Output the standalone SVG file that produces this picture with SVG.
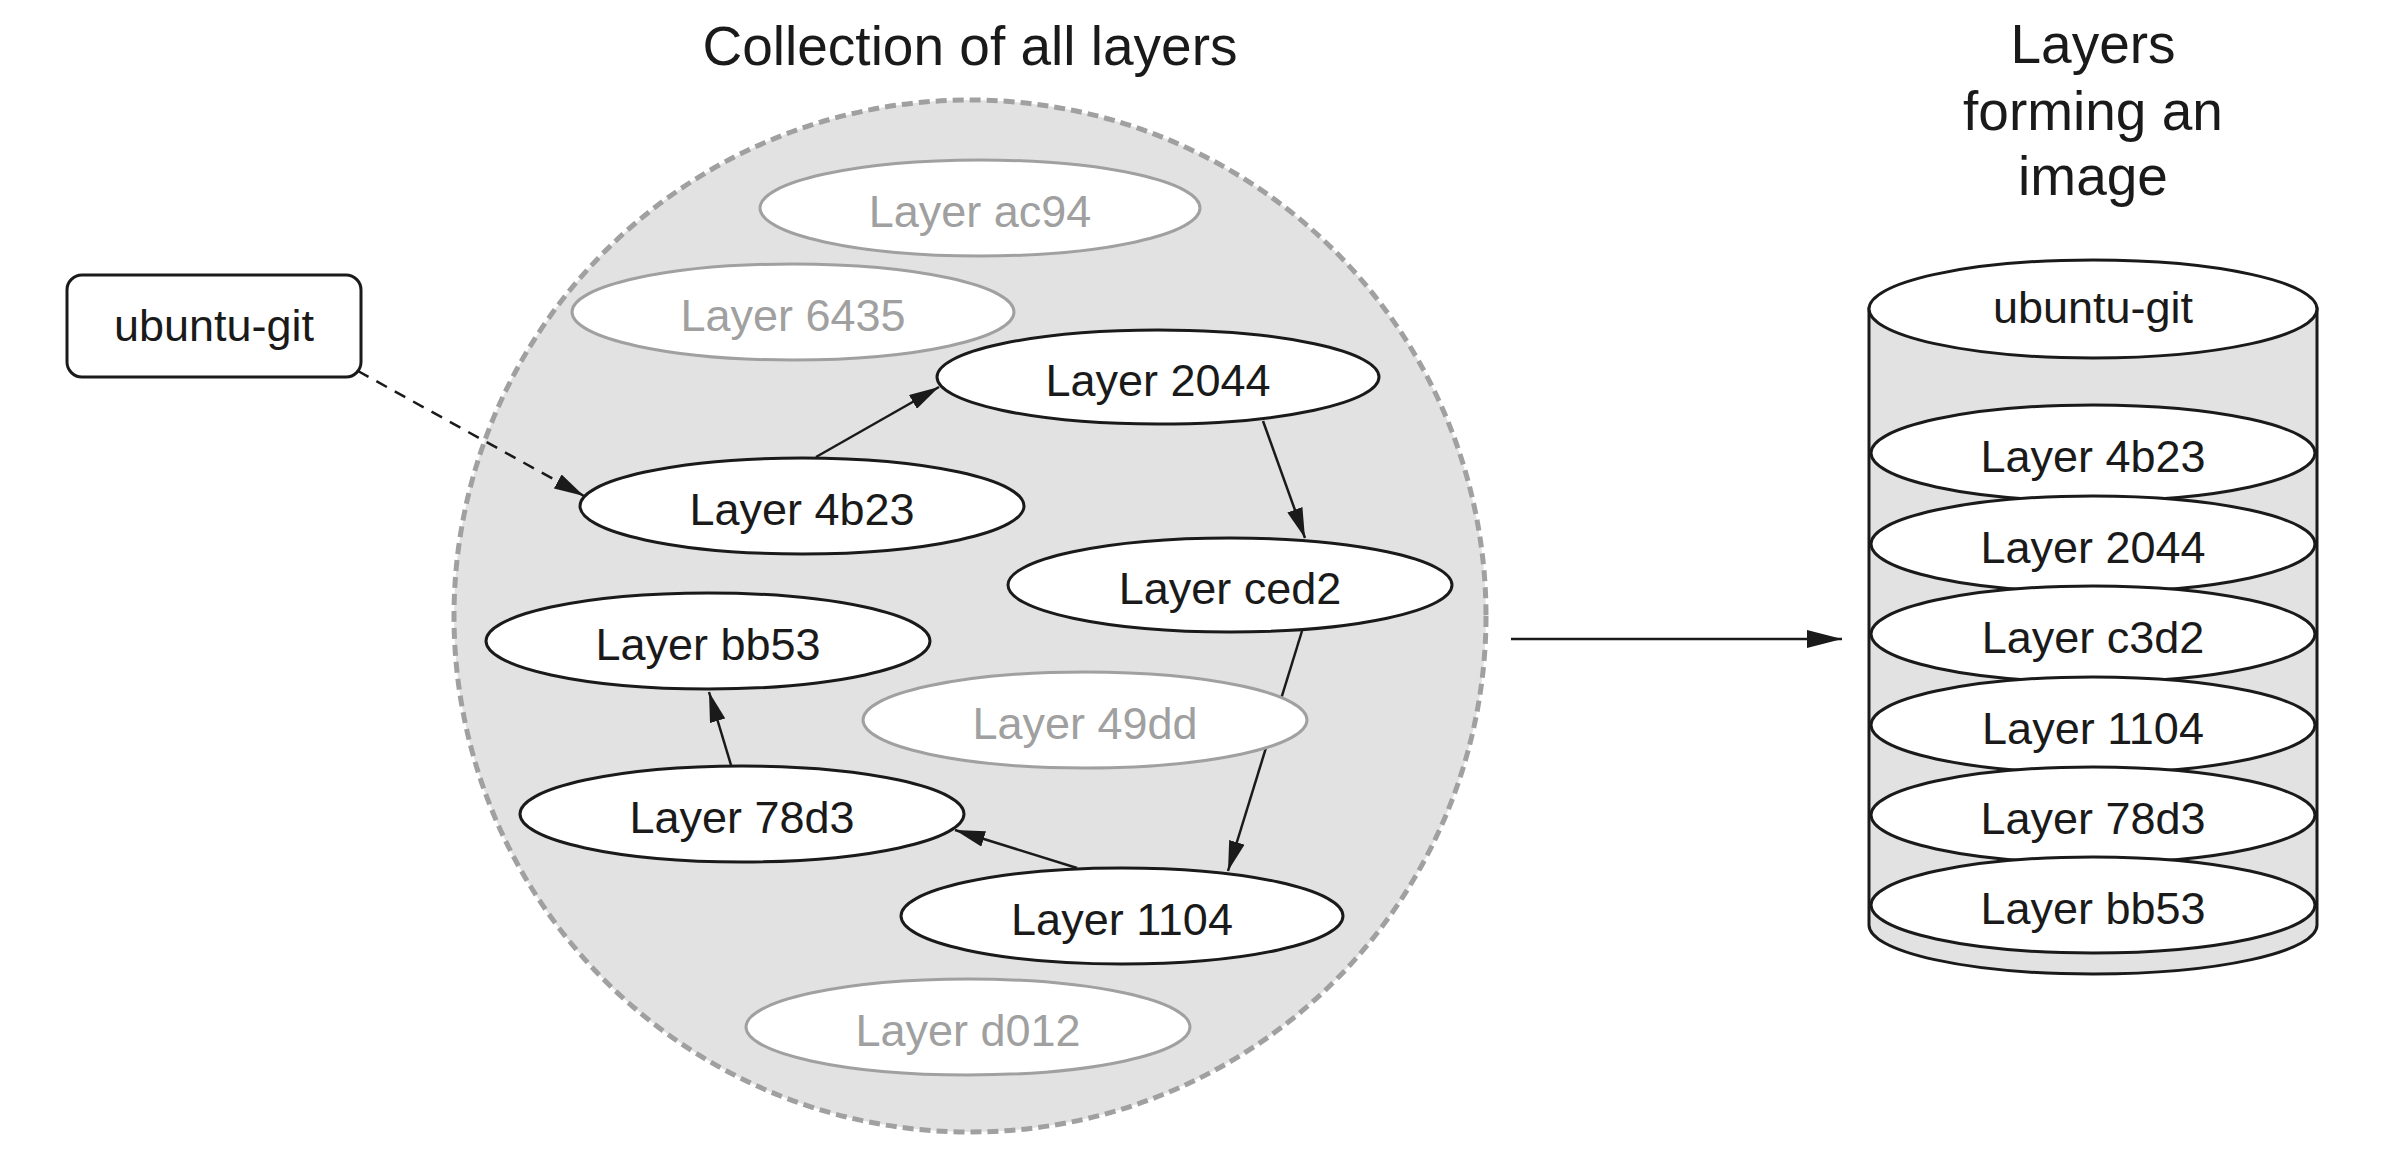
<svg xmlns="http://www.w3.org/2000/svg" width="2406" height="1150" viewBox="0 0 2406 1150">
<style>
  text { font-family: "Liberation Sans", Arial, Helvetica, sans-serif; text-anchor: middle; fill: #1a1a1a; }
  .title { font-size: 55px; }
  .lbl { font-size: 45px; }
  .dim { fill: #a0a0a0; }
  .node { fill: #ffffff; stroke: #1a1a1a; stroke-width: 3; }
  .ghost { fill: #ffffff; stroke: #a0a0a0; stroke-width: 3; }
  .edge { fill: none; stroke: #1a1a1a; stroke-width: 2.5; }
</style>
<defs>
  <marker id="arrow" viewBox="0 0 30 16" markerUnits="userSpaceOnUse" markerWidth="30" markerHeight="16" refX="30" refY="8" orient="auto">
    <path d="M0,0 L30,8 L0,16 z" fill="#1a1a1a"/>
  </marker>
  <marker id="bigarrow" viewBox="0 0 35 18" markerUnits="userSpaceOnUse" markerWidth="35" markerHeight="18" refX="35" refY="9" orient="auto">
    <path d="M0,0 L35,9 L0,18 z" fill="#1a1a1a"/>
  </marker>
</defs>
<rect width="2406" height="1150" fill="#ffffff"/>

<g id="collection">
  <text class="title" x="970" y="65">Collection of all layers</text>
  <circle cx="970" cy="616" r="516" fill="#e2e2e2" stroke="#a0a0a0" stroke-width="5" stroke-dasharray="11 6"/>
</g>

<g id="connectors">
  <path class="edge" d="M358,371 L584,496" stroke-dasharray="12 9" marker-end="url(#arrow)"/>
  <path class="edge" d="M816,457 L939,387" marker-end="url(#arrow)"/>
  <path class="edge" d="M1263,421 L1305,538" marker-end="url(#arrow)"/>
  <path class="edge" d="M1302,631 L1228,871" marker-end="url(#arrow)"/>
  <path class="edge" d="M1077,868 L955,830" marker-end="url(#arrow)"/>
  <path class="edge" d="M731,765 L709,692" marker-end="url(#arrow)"/>
  <path class="edge" d="M1511,639 L1842,639" stroke-width="3" marker-end="url(#bigarrow)"/>
</g>

<g id="ubuntu-git">
  <rect class="node" x="67" y="275" width="294" height="102" rx="15"/>
  <text class="lbl" x="214" y="341">ubuntu-git</text>
</g>

<g id="layer-ac94">
  <ellipse class="ghost" cx="980" cy="208" rx="220" ry="48"/>
  <text class="lbl dim" x="980" y="227">Layer ac94</text>
</g>
<g id="layer-6435">
  <ellipse class="ghost" cx="793" cy="312" rx="221" ry="48"/>
  <text class="lbl dim" x="793" y="331">Layer 6435</text>
</g>
<g id="layer-2044">
  <ellipse class="node" cx="1158" cy="377" rx="221" ry="47"/>
  <text class="lbl" x="1158" y="396">Layer 2044</text>
</g>
<g id="layer-4b23">
  <ellipse class="node" cx="802" cy="506" rx="222" ry="48"/>
  <text class="lbl" x="802" y="525">Layer 4b23</text>
</g>
<g id="layer-ced2">
  <ellipse class="node" cx="1230" cy="585" rx="222" ry="47"/>
  <text class="lbl" x="1230" y="604">Layer ced2</text>
</g>
<g id="layer-bb53">
  <ellipse class="node" cx="708" cy="641" rx="222" ry="48"/>
  <text class="lbl" x="708" y="660">Layer bb53</text>
</g>
<g id="layer-49dd">
  <ellipse class="ghost" cx="1085" cy="720" rx="222" ry="48"/>
  <text class="lbl dim" x="1085" y="739">Layer 49dd</text>
</g>
<g id="layer-78d3">
  <ellipse class="node" cx="742" cy="814" rx="222" ry="48"/>
  <text class="lbl" x="742" y="833">Layer 78d3</text>
</g>
<g id="layer-1104">
  <ellipse class="node" cx="1122" cy="916" rx="221" ry="48"/>
  <text class="lbl" x="1122" y="935">Layer 1104</text>
</g>
<g id="layer-d012">
  <ellipse class="ghost" cx="968" cy="1027" rx="222" ry="48"/>
  <text class="lbl dim" x="968" y="1046">Layer d012</text>
</g>

<g id="image-stack">
  <text class="title" x="2093" y="63">Layers</text>
  <text class="title" x="2093" y="130">forming an</text>
  <text class="title" x="2093" y="195">image</text>
  <path d="M1869,309 L1869,925 A224,49 0 0 0 2317,925 L2317,309 Z" fill="#e2e2e2" stroke="#1a1a1a" stroke-width="3"/>
  <g id="stack-ubuntu-git">
    <ellipse class="node" cx="2093" cy="309" rx="224" ry="49"/>
    <text class="lbl" x="2093" y="323">ubuntu-git</text>
  </g>
  <g id="stack-4b23">
    <ellipse class="node" cx="2093" cy="453" rx="222" ry="48"/>
    <text class="lbl" x="2093" y="472">Layer 4b23</text>
  </g>
  <g id="stack-2044">
    <ellipse class="node" cx="2093" cy="544" rx="222" ry="48"/>
    <text class="lbl" x="2093" y="563">Layer 2044</text>
  </g>
  <g id="stack-c3d2">
    <ellipse class="node" cx="2093" cy="634" rx="222" ry="48"/>
    <text class="lbl" x="2093" y="653">Layer c3d2</text>
  </g>
  <g id="stack-1104">
    <ellipse class="node" cx="2093" cy="725" rx="222" ry="48"/>
    <text class="lbl" x="2093" y="744">Layer 1104</text>
  </g>
  <g id="stack-78d3">
    <ellipse class="node" cx="2093" cy="815" rx="222" ry="48"/>
    <text class="lbl" x="2093" y="834">Layer 78d3</text>
  </g>
  <g id="stack-bb53">
    <ellipse class="node" cx="2093" cy="905" rx="222" ry="48"/>
    <text class="lbl" x="2093" y="924">Layer bb53</text>
  </g>
</g>
</svg>
